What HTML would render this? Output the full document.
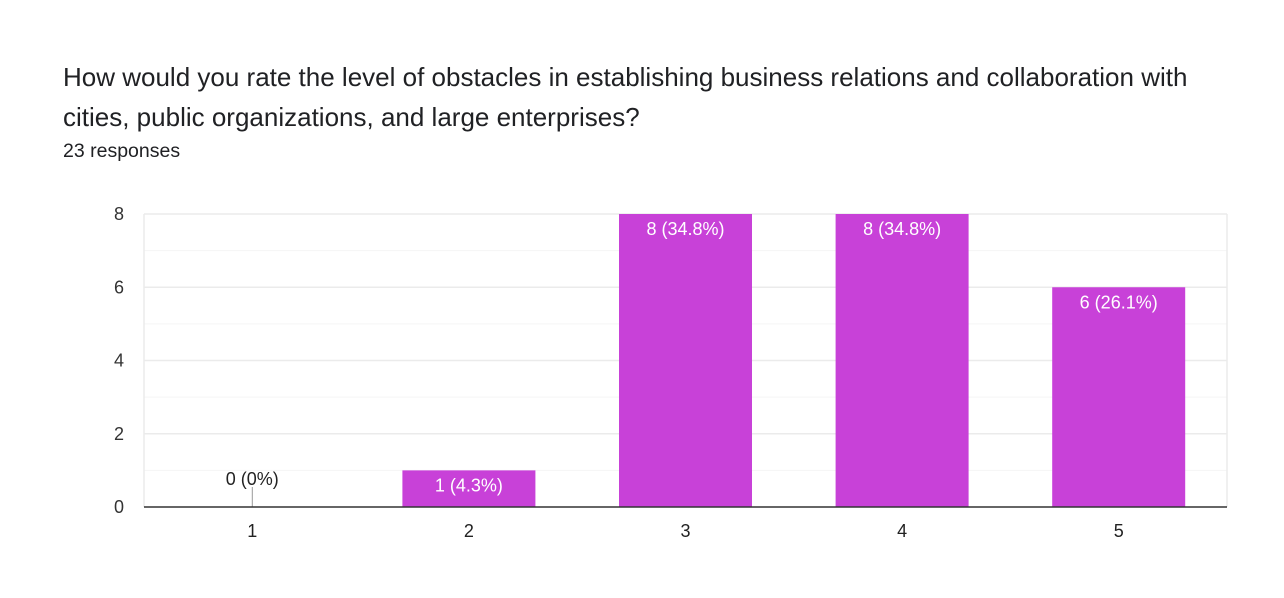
<!DOCTYPE html>
<html><head><meta charset="utf-8"><style>
html,body{margin:0;padding:0;background:#fff;width:1284px;height:598px;overflow:hidden;font-family:"Liberation Sans",Arial,sans-serif;}
.title{position:absolute;left:63px;top:57px;font-size:26px;line-height:40px;color:#202124;white-space:nowrap;}
.sub{position:absolute;left:63px;top:140px;font-size:19.5px;color:#202124;}
svg{position:absolute;left:0;top:0;}
</style></head><body>
<div class="title">How would you rate the level of obstacles in establishing business relations and collaboration with<br>cities, public organizations, and large enterprises?</div>
<div class="sub">23 responses</div>
<svg id="chart" width="1284" height="598"></svg>
<script>
const categories = ["1","2","3","4","5"];
const counts = [0,1,8,8,6];
const labels = ["0 (0%)","1 (4.3%)","8 (34.8%)","8 (34.8%)","6 (26.1%)"];
const yTicks = [0,2,4,6,8];
const yMax = 8;

const NS="http://www.w3.org/2000/svg";
const svg=document.getElementById('chart');
const L=144,R=1227,T=214,B=507;
const y=v=>B-(v/yMax)*(B-T);
const band=(R-L)/categories.length;
const xc=i=>L+band*(i+0.5);
const bw=133;
function mk(t,a){const e=document.createElementNS(NS,t);for(const k in a)e.setAttribute(k,a[k]);svg.appendChild(e);return e;}

for(let v=1;v<yMax;v+=2){
  const g=mk('line',{x1:L,x2:R,y1:y(v),y2:y(v),stroke:'#f5f5f5','stroke-width':1});
  
  
}
yTicks.forEach(v=>{
  if(v>0){
    const g=mk('line',{x1:L,x2:R,y1:y(v),y2:y(v),stroke:'#ebebeb','stroke-width':1.5});
    
    
  }
  const t=mk('text',{x:124,y:y(v)+6,'text-anchor':'end','font-size':18,fill:'#333'});
  t.textContent=v;
  
  
});
const lv=mk('line',{x1:L,x2:L,y1:T,y2:B,stroke:'#ebebeb','stroke-width':1.5});


const rv=mk('line',{x1:R,x2:R,y1:T,y2:B,stroke:'#ebebeb','stroke-width':1.5});



counts.forEach((c,i)=>{
  const cx=xc(i);
  if(c>0){
    const r=mk('rect',{x:cx-bw/2,y:y(c),width:bw,height:B-y(c),fill:'#c841d8'});
    
    
    const t=mk('text',{x:cx,y:y(c)+21,'text-anchor':'middle','font-size':18,fill:'#fff'});
    t.textContent=labels[i];
    
    
  } else {
    const s=mk('line',{x1:cx,x2:cx,y1:B-20,y2:B,stroke:'#999','stroke-width':1});
    
    
    const t=mk('text',{x:cx,y:B-22,'text-anchor':'middle','font-size':18,fill:'#222'});
    t.textContent=labels[i];
    
    
  }
  const xt=mk('text',{x:cx,y:537,'text-anchor':'middle','font-size':18,fill:'#222'});
  xt.textContent=categories[i];
  
  
});
const ax=mk('line',{x1:L,x2:R,y1:B,y2:B,stroke:'#333','stroke-width':1.5});


</script>
</body></html>
